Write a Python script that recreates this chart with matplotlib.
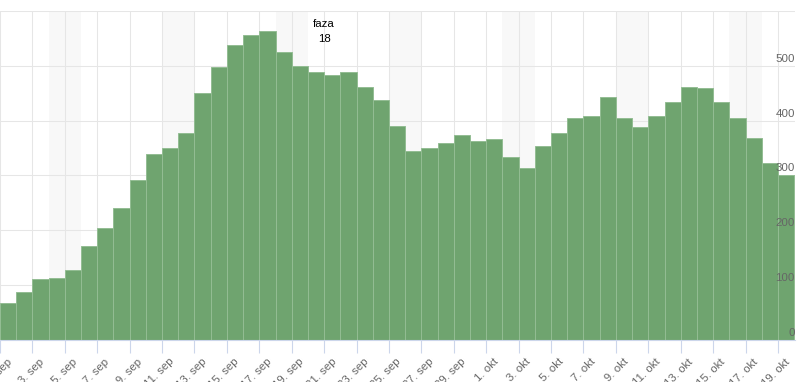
import matplotlib
matplotlib.use('Agg')
import matplotlib.pyplot as plt
import matplotlib.transforms as mtransforms

# daily values, 1. sep .. 19. okt (index 0 = 1. sep)
values = [67, 87, 111, 112, 127, 171, 204, 240, 292, 339,
          350, 378, 451, 498, 538, 557, 564, 525, 500, 489,
          484, 489, 462, 438, 390, 345, 350, 359, 374, 363,
          366, 334, 313, 354, 377, 405, 409, 443, 405, 388,
          409, 434, 462, 460, 434, 405, 368, 323, 301]
days = list(range(len(values)))

# weekend start indexes (saturdays)
weekends = [3, 10, 17, 24, 31, 38, 45]

tick_pos = list(range(0, 49, 2))
tick_labels = ['1. sep', '3. sep', '5. sep', '7. sep', '9. sep', '11. sep',
               '13. sep', '15. sep', '17. sep', '19. sep', '21. sep', '23. sep',
               '25. sep', '27. sep', '29. sep', '1. okt', '3. okt', '5. okt',
               '7. okt', '9. okt', '11. okt', '13. okt', '15. okt', '17. okt',
               '19. okt']
y_ticks = [0, 100, 200, 300, 400, 500]

faza_day = 20  # 21. sep

plt.rcParams['font.family'] = ['Liberation Sans', 'DejaVu Sans']

fig = plt.figure(figsize=(8.04, 3.82), dpi=100)
W, H = 804, 382
ax = fig.add_axes([0, (H - 339.5) / H, 795 / W, (339.5 - 11.3) / H])

for d in weekends:
    ax.axvspan(d, d + 2, color='#f8f8f8', zorder=0, lw=0)

ax.bar(days, values, width=1, align='edge', color='#6fa46f',
       edgecolor='#93bd93', linewidth=0.7, zorder=2)

ax.set_xlim(0.16, 49.05)
ax.set_ylim(0, 600)

ax.set_xticks(tick_pos)
ax.tick_params(axis='x', length=9.5, width=0.8, color='#ccd6eb', labelbottom=False)
for pos, lab in zip(tick_pos, tick_labels):
    ax.annotate(lab, xy=(pos, 0), xycoords=('data', 'axes fraction'),
                xytext=(10.5, -20.5), textcoords='offset pixels',
                ha='right', va='center', rotation=45, rotation_mode='anchor',
                fontsize=8.25, color='#666666', annotation_clip=False)

ax.set_yticks(y_ticks + [600])
ax.tick_params(axis='y', length=0, labelleft=False, labelright=False)
for v in y_ticks:
    ax.annotate(str(v), xy=(1, v), xycoords=('axes fraction', 'data'),
                xytext=(0, 2), textcoords='offset pixels',
                ha='right', va='bottom', fontsize=8.25, color='#666666', zorder=5)

ax.grid(True, color='#e6e6e6', linewidth=0.75, zorder=1)
ax.set_axisbelow(True)
for s in ['top', 'left', 'right']:
    ax.spines[s].set_visible(False)
ax.spines['bottom'].set_color('#ccd6eb')
ax.spines['bottom'].set_linewidth(0.8)

tr = mtransforms.blended_transform_factory(ax.transData, ax.transAxes)
ax.text(faza_day, 0.961, 'faza', transform=tr, ha='center', va='center',
        fontsize=8.25, color='#000000')
ax.text(faza_day, 0.9156, '18', transform=tr, ha='center', va='center',
        fontsize=8.25, color='#000000')

fig.savefig('out.png', dpi=100)
